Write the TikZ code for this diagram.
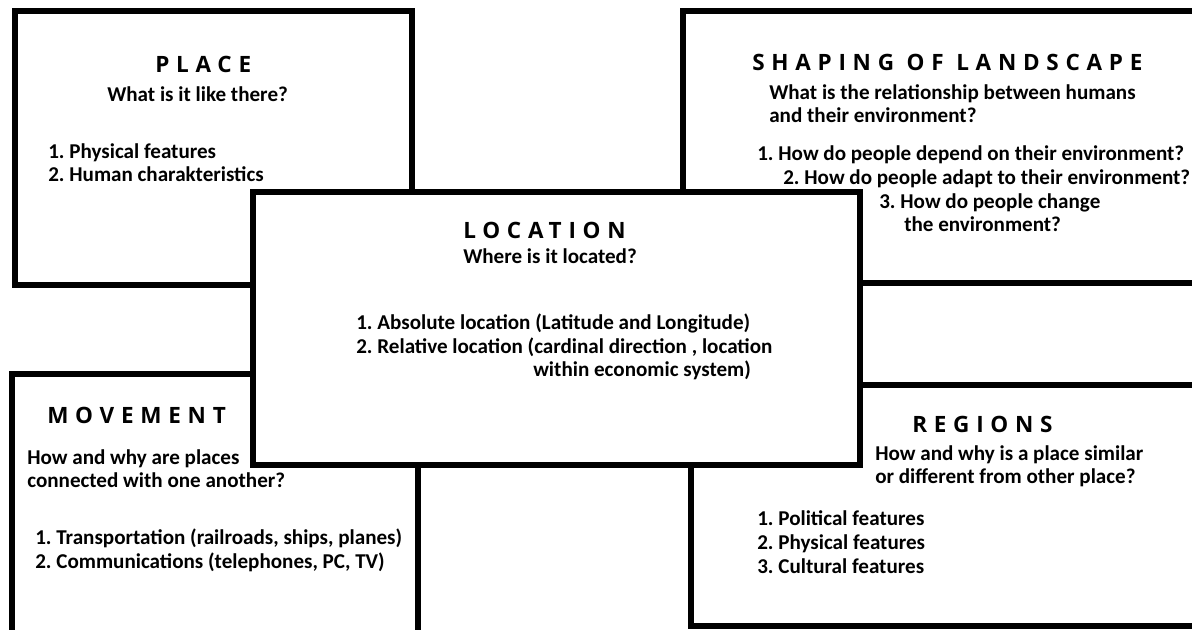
\documentclass[tikz,border=0pt]{standalone}
\usepackage{fontspec}
\setmainfont{Carlito}
\newfontfamily\headfont[LetterSpace=30]{Open Sans}
\usetikzlibrary{positioning}
\frenchspacing

\begin{document}
\begin{tikzpicture}[x=0.025cm, y=-0.025cm,
  card/.style={draw, line width=4.3pt, fill=white},
  head/.style={anchor=base west, inner sep=0pt,
               font=\headfont\bfseries\fontsize{16}{18}\selectfont},
  txt/.style={anchor=base west, inner sep=0pt,
              font=\bfseries\fontsize{15}{18}\selectfont},
]
\useasboundingbox (0,0) rectangle (1192,630);
\clip (0,0) rectangle (1192,630);

% back cards
\draw[card] (15,11) rectangle (412,285);
\draw[card] (683,11) rectangle (1197,283);
\draw[card] (12,374) rectangle (418,640);
\draw[card] (691,385) rectangle (1197,626);

% place
\node[head] (placeT) at (155,73) {PLACE};
\node[txt] (placeQ) at (107,102) {What is it like there?};
\node[txt] (place1) at (48,159) {1. Physical features};
\node[txt] (place2) at (48,182) {2. Human charakteristics};

% shaping of landscape
\node[head] (shapeT) at (752,71) {SHAPING OF LANDSCAPE};
\node[txt] (shapeQa) at (769,100) {What is the relationship between humans};
\node[txt] (shapeQb) at (769,123) {and their environment?};
\node[txt] (shape1) at (757,161) {1. How do people depend on their environment?};
\node[txt] (shape2) at (783,185) {2. How do people adapt to their environment?};
\node[txt] (shape3a) at (879,209) {3. How do people change};
\node[txt] (shape3b) at (904,232) {the environment?};

% movement
\node[head] (moveT) at (47,423) {MOVEMENT};
\node[txt] (moveQa) at (27,464) {How and why are places};
\node[txt] (moveQb) at (27,487) {connected with one another?};
\node[txt] (move1) at (35,544) {1. Transportation (railroads, ships, planes)};
\node[txt] (move2) at (35,568) {2. Communications (telephones, PC, TV)};

% regions
\node[head] (regT) at (912,432) {REGIONS};
\node[txt] (regQa) at (875,460) {How and why is a place similar};
\node[txt] (regQb) at (875,483) {or different from other place?};
\node[txt] (reg1) at (757,525) {1. Political features};
\node[txt] (reg2) at (757,549) {2. Physical features};
\node[txt] (reg3) at (757,573) {3. Cultural features};

% location, on top
\draw[card] (253,192) rectangle (860,465);
\node[head] (locT) at (463,239) {LOCATION};
\node[txt] (locQ) at (463,264) {Where is it located?};
\node[txt] (loc1) at (356,329) {1. Absolute location (Latitude and Longitude)};
\node[txt] (loc2) at (356,353) {2. Relative location (cardinal direction , location};
\node[txt] (loc2b) at (533,376) {within economic system)};
\end{tikzpicture}
\end{document}
